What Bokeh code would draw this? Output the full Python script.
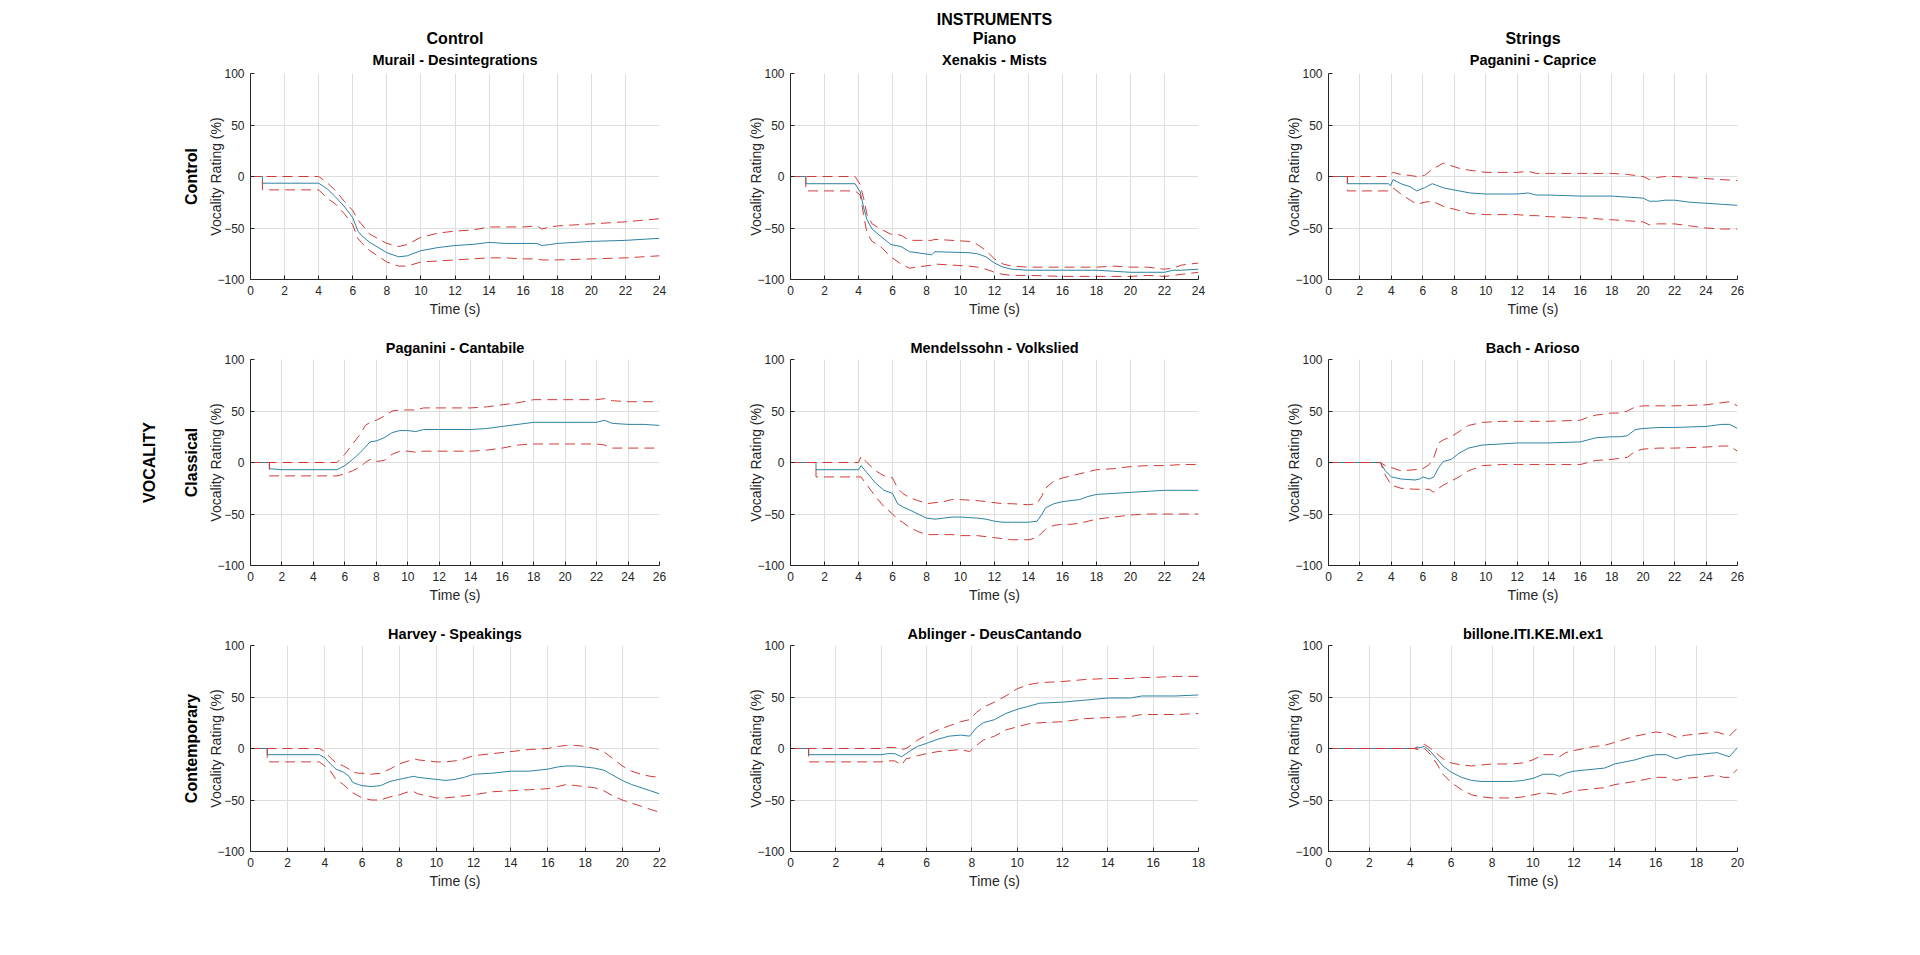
from bokeh.plotting import figure
from bokeh.models import Range1d, Title, FixedTicker
from bokeh.layouts import column, row
from bokeh.embed import file_html
from bokeh.resources import INLINE

FONT = "Liberation Sans"

# ---------------- data ----------------
instrument_labels = ["Control", "Piano", "Strings"]
vocality_labels = ["Control", "Classical", "Contemporary"]

titles = ["Murail - Desintegrations", "Xenakis - Mists", "Paganini - Caprice",
          "Paganini - Cantabile", "Mendelssohn - Volkslied", "Bach - Arioso",
          "Harvey - Speakings", "Ablinger - DeusCantando", "billone.ITI.KE.MI.ex1"]
durations = [24, 24, 26, 26, 24, 26, 22, 18, 20]

murail_t = [0, 0.7, 0.7, 4.0, 4.5, 5.0, 5.5, 6.0, 6.3, 6.5, 7.0, 8.0, 8.7, 9.2, 10, 11, 12, 13, 14, 15, 16, 16.8, 17.1, 17.6, 18, 20, 22, 24]
murail_mean = [0, 0, -6.5, -6.5, -12, -20, -29, -40, -53, -57, -64, -74, -78, -77, -72, -69, -67, -66, -64, -65, -65, -65, -67, -66, -65, -63, -62, -60]
murail_hi = [0, 0, 0, 0, -6, -14, -24, -33, -42, -46, -56, -65, -68, -66, -59, -55, -53, -52, -49, -49, -49, -48, -51, -49, -48, -46, -44, -41]
murail_lo = [0, 0, -13, -13, -21, -27, -36, -47, -60, -64, -72, -83, -87, -87, -83, -82, -81, -80, -79, -79, -80, -80, -81, -81, -81, -80, -79, -77]

xenakis_t = [0, 0.9, 0.9, 3.8, 4.1, 4.3, 4.5, 4.8, 5.3, 5.9, 6.5, 7.0, 8.3, 8.5, 10.5, 11, 11.5, 12, 12.5, 13, 14, 16, 18, 19, 20, 21, 22, 22.5, 23, 24]
xenakis_mean = [0, 0, -7, -7, -15, -30, -42, -51, -58, -66, -68, -73, -76, -73, -74, -75, -78, -84, -88, -90, -91, -91, -91, -92, -93, -93, -93, -91, -91, -90]
xenakis_hi = [0, 0, 0, 0, -8, -21, -37, -46, -51, -56, -57, -62, -62, -61, -63, -66, -72, -80, -85, -87, -88, -88, -88, -87, -88, -88, -90, -89, -86, -84]
xenakis_lo = [0, 0, -14, -14, -18, -37, -55, -63, -68, -78, -85, -89, -86, -85, -87, -88, -90, -93, -95, -96, -96, -97, -97, -97, -97, -96, -97, -96, -95, -93]

caprice_t = [0, 1.2, 1.2, 3.8, 3.95, 4.1, 4.6, 5.2, 5.6, 6.1, 6.6, 7.3, 8.3, 9.0, 10, 12, 12.7, 13.2, 14, 16, 18, 19, 20, 20.4, 20.9, 21.4, 22, 23, 24, 25, 26]
caprice_mean = [0, 0, -7, -7, -9, -3, -7, -10, -14, -11, -7, -11, -14, -16, -17, -17, -16, -18, -18, -19, -19, -20, -21, -24, -24, -23, -23, -25, -26, -27, -28]
caprice_hi = [0, 0, 0, 0, 2, 4, 2, 1, 0, 1, 7, 13, 8, 6, 4, 4, 5, 3, 3, 3, 3, 2, 0, -3, -1, 0, 0, -1, -2, -3, -4]
caprice_lo = [0, 0, -14, -14, -13, -11, -17, -23, -27, -25, -24, -29, -33, -36, -37, -37, -38, -38, -39, -40, -42, -43, -44, -47, -46, -46, -46, -48, -50, -51, -51]

cantabile_t = [0, 1.2, 1.2, 2.0, 5.5, 6.0, 6.5, 7.0, 7.3, 7.6, 8.0, 8.5, 9.0, 9.5, 10, 10.5, 11, 12, 14, 15, 16, 17, 18, 20, 22, 22.5, 23, 24, 25, 26]
cantabile_mean = [0, 0, -6, -7, -7, -3, 3, 10, 15, 20, 21, 24, 29, 31, 31, 30, 32, 32, 32, 33, 35, 37, 39, 39, 39, 41, 38, 37, 37, 36]
cantabile_hi = [0, 0, 0, 0, 0, 8, 18, 28, 36, 39, 41, 45, 50, 51, 51, 51, 53, 53, 53, 54, 56, 58, 61, 61, 61, 62, 60, 59, 59, 59]
cantabile_lo = [0, 0, -13, -13, -13, -11, -8, -4, 0, 3, 1, 2, 8, 11, 11, 10, 11, 11, 11, 12, 14, 17, 18, 18, 18, 17, 14, 14, 14, 14]

volkslied_t = [0, 1.5, 1.5, 4.0, 4.15, 4.5, 5.0, 5.5, 6.0, 6.3, 6.6, 7.0, 7.5, 8.0, 8.5, 9.0, 9.5, 10, 11, 11.5, 12, 12.5, 13, 14, 14.5, 14.8, 15, 15.5, 16, 16.5, 17, 17.5, 18, 19, 20, 21, 22, 23, 24]
volkslied_mean = [0, 0, -7, -7, -3, -10, -20, -27, -30, -40, -43, -46, -50, -54, -55, -54, -53, -53, -54, -55, -57, -58, -58, -58, -57, -50, -44, -40, -38, -37, -36, -33, -31, -30, -29, -28, -27, -27, -27]
volkslied_hi = [0, 0, 0, 0, 6, 0, -8, -13, -15, -25, -30, -34, -37, -40, -39, -38, -36, -36, -37, -38, -39, -40, -40, -41, -40, -32, -25, -18, -15, -13, -11, -9, -7, -6, -4, -3, -3, -2, -2]
volkslied_lo = [0, 0, -14, -14, -14, -22, -33, -43, -50, -55, -58, -63, -67, -70, -70, -70, -70, -71, -71, -72, -73, -74, -75, -75, -73, -68, -65, -61, -60, -60, -59, -57, -55, -53, -51, -50, -50, -50, -50]

arioso_t = [0, 3.3, 3.6, 4.0, 4.6, 5.5, 5.8, 6.0, 6.4, 6.7, 7.0, 7.3, 7.8, 8.3, 8.9, 9.8, 11, 12, 14, 16, 16.5, 17, 18, 18.5, 19, 19.5, 20, 21, 22, 24, 25, 25.5, 26]
arioso_mean = [0, 0, -8, -14, -16, -17, -16, -14, -16, -14, -5, 1, 3, 9, 14, 17, 18, 19, 19, 20, 22, 24, 25, 25, 26, 32, 33, 34, 34, 35, 37, 37, 33]
arioso_hi = [0, 0, -3, -5, -8, -7, -6, -6, -2, 5, 19, 22, 25, 30, 36, 39, 40, 40, 40, 41, 44, 46, 48, 48, 50, 54, 55, 55, 55, 56, 58, 59, 55]
arioso_lo = [0, 0, -12, -22, -25, -26, -26, -26, -26, -29, -25, -22, -18, -14, -8, -3, -2, -2, -2, -2, 0, 2, 3, 4, 5, 11, 13, 14, 14, 15, 16, 16, 11]

speakings_t = [0, 0.9, 0.9, 3.7, 4.0, 4.3, 4.6, 5.0, 5.3, 5.5, 5.8, 6.0, 6.5, 7.0, 7.5, 8.0, 8.5, 8.8, 9.0, 9.5, 10, 10.5, 11, 11.5, 12, 13, 14, 15, 16, 16.5, 17, 17.5, 18, 18.5, 19, 19.5, 20, 20.5, 21, 21.5, 22]
speakings_mean = [0, 0, -6, -6, -9, -15, -20, -23, -27, -33, -35, -36, -37, -36, -32, -30, -28, -27, -28, -29, -30, -31, -30, -28, -25, -24, -22, -22, -20, -18, -17, -17, -18, -19, -21, -26, -31, -35, -38, -41, -44]
speakings_hi = [0, 0, 0, 0, -3, -9, -14, -17, -20, -23, -24, -24, -25, -24, -20, -15, -12, -10, -11, -12, -13, -13, -12, -10, -7, -5, -3, -1, 0, 2, 3, 3, 2, 0, -3, -10, -17, -22, -25, -27, -28]
speakings_lo = [0, 0, -13, -13, -17, -22, -30, -35, -40, -43, -46, -48, -50, -50, -47, -45, -42, -42, -44, -46, -48, -48, -47, -46, -45, -42, -41, -40, -39, -37, -35, -36, -37, -38, -41, -46, -50, -53, -56, -59, -62]

cantando_t = [0, 0.8, 0.8, 4.0, 4.3, 4.6, 4.9, 5.1, 5.3, 5.6, 6.0, 6.5, 7.0, 7.5, 7.9, 8.2, 8.5, 9.0, 9.5, 10, 10.5, 11, 12, 13, 14, 15, 15.5, 16, 17, 18]
cantando_mean = [0, 0, -6, -6, -5, -5, -8, -5, -2, 2, 5, 9, 12, 13, 12, 20, 25, 28, 34, 38, 41, 44, 45, 47, 49, 49, 51, 51, 51, 52]
cantando_hi = [0, 0, 0, 0, 1, 1, -1, 0, 3, 8, 13, 18, 22, 26, 28, 35, 40, 45, 51, 58, 62, 64, 65, 67, 68, 68, 69, 69, 70, 70]
cantando_lo = [0, 0, -13, -13, -12, -12, -16, -10, -9, -7, -5, -3, -2, -1, -3, 3, 8, 12, 18, 21, 24, 25, 26, 29, 30, 31, 33, 33, 33, 34]

billone_t = [0, 4.2, 4.5, 4.7, 5.0, 5.3, 5.6, 6.0, 6.5, 7.0, 7.5, 8.0, 9.0, 9.5, 10, 10.5, 11, 11.3, 11.6, 12, 13, 13.5, 14, 15, 15.5, 16, 16.5, 17, 17.5, 18, 18.5, 19, 19.3, 19.6, 20]
billone_mean = [0, 0, 1, 2, -3, -10, -17, -23, -28, -31, -32, -32, -32, -31, -29, -25, -25, -27, -24, -22, -20, -19, -15, -11, -8, -6, -6, -10, -7, -6, -5, -4, -6, -8, 1]
billone_hi = [0, 0, 3, 4, 0, -5, -10, -14, -16, -17, -16, -15, -15, -14, -11, -6, -6, -8, -4, -2, 2, 3, 6, 12, 14, 16, 15, 11, 13, 14, 15, 16, 14, 12, 20]
billone_lo = [0, 0, -2, 0, -6, -15, -25, -33, -40, -45, -47, -48, -48, -47, -45, -43, -44, -45, -43, -41, -39, -38, -35, -32, -30, -28, -28, -31, -29, -28, -27, -26, -28, -28, -20]

series = [
    (murail_t, murail_mean, murail_hi, murail_lo),
    (xenakis_t, xenakis_mean, xenakis_hi, xenakis_lo),
    (caprice_t, caprice_mean, caprice_hi, caprice_lo),
    (cantabile_t, cantabile_mean, cantabile_hi, cantabile_lo),
    (volkslied_t, volkslied_mean, volkslied_hi, volkslied_lo),
    (arioso_t, arioso_mean, arioso_hi, arioso_lo),
    (speakings_t, speakings_mean, speakings_hi, speakings_lo),
    (cantando_t, cantando_mean, cantando_hi, cantando_lo),
    (billone_t, billone_mean, billone_hi, billone_lo),
]

# ---------------- styling / layout ----------------
MEAN_COLOR = "#2f82a3"
BOUND_COLOR = "#d03a3a"
AX_COLOR = "#262626"
GRID_COLOR = "#dedede"

frame_w = [409, 408, 409]
border_l = [250, 91, 90]
border_t = [73, 32, 32]
FRAME_H = 206


def bold_title(text, size, standoff):
    return Title(text=text, align="center", text_font=FONT, text_font_size=size,
                 text_font_style="bold", text_color="black", standoff=standoff)


def make_panel(r, c):
    i = r * 3 + c
    t, m, hi, lo = series[i]
    xmax = durations[i]
    p = figure(frame_width=frame_w[c], frame_height=FRAME_H, title=None,
               x_range=Range1d(0, xmax), y_range=Range1d(-100, 100),
               output_backend="svg", toolbar_location=None,
               min_border_left=border_l[c], min_border_right=40,
               min_border_top=border_t[r], min_border_bottom=48)
    p.outline_line_color = None
    p.background_fill_color = "white"
    p.border_fill_color = "white"

    p.xaxis.ticker = FixedTicker(ticks=list(range(0, xmax + 1, 2)))
    p.yaxis.ticker = FixedTicker(ticks=[-100, -50, 0, 50, 100])
    for ax in (p.xaxis[0], p.yaxis[0]):
        ax.axis_line_color = AX_COLOR
        ax.major_tick_line_color = AX_COLOR
        ax.major_tick_in = 4
        ax.major_tick_out = 0
        ax.minor_tick_line_color = None
        ax.major_label_text_font = FONT
        ax.major_label_text_font_size = "12px"
        ax.major_label_text_color = AX_COLOR
        ax.axis_label_text_font = FONT
        ax.axis_label_text_font_size = "14px"
        ax.axis_label_text_font_style = "normal"
        ax.axis_label_text_color = AX_COLOR
        ax.major_label_standoff = 6
    p.xaxis.axis_label = "Time (s)"
    p.xaxis.axis_label_standoff = 3
    p.yaxis.axis_label = "Vocality Rating (%)"
    p.yaxis.axis_label_standoff = -10
    p.grid.grid_line_color = GRID_COLOR

    p.line(t, m, color=MEAN_COLOR, line_width=1)
    p.line(t, hi, color=BOUND_COLOR, line_width=1, line_dash="10 6")
    p.line(t, lo, color=BOUND_COLOR, line_width=1, line_dash="10 6")

    # titles above: first added sits closest to the frame
    p.add_layout(bold_title(titles[i], "14.5px", 11 if r == 0 else 8), "above")
    if r == 0:
        p.add_layout(bold_title(instrument_labels[c], "16px", -5), "above")
        if c == 1:
            p.add_layout(bold_title("INSTRUMENTS", "16px", 5), "above")
    if c == 0:
        p.add_layout(bold_title(vocality_labels[r], "16px", 12), "left")
        if r == 1:
            p.add_layout(bold_title("VOCALITY", "16px", 34), "left")
    return p


rows = [row(*[make_panel(r, c) for c in range(3)], spacing=0) for r in range(3)]
layout = column(*rows, spacing=0)

open("out.html", "w").write(file_html(layout, INLINE))
